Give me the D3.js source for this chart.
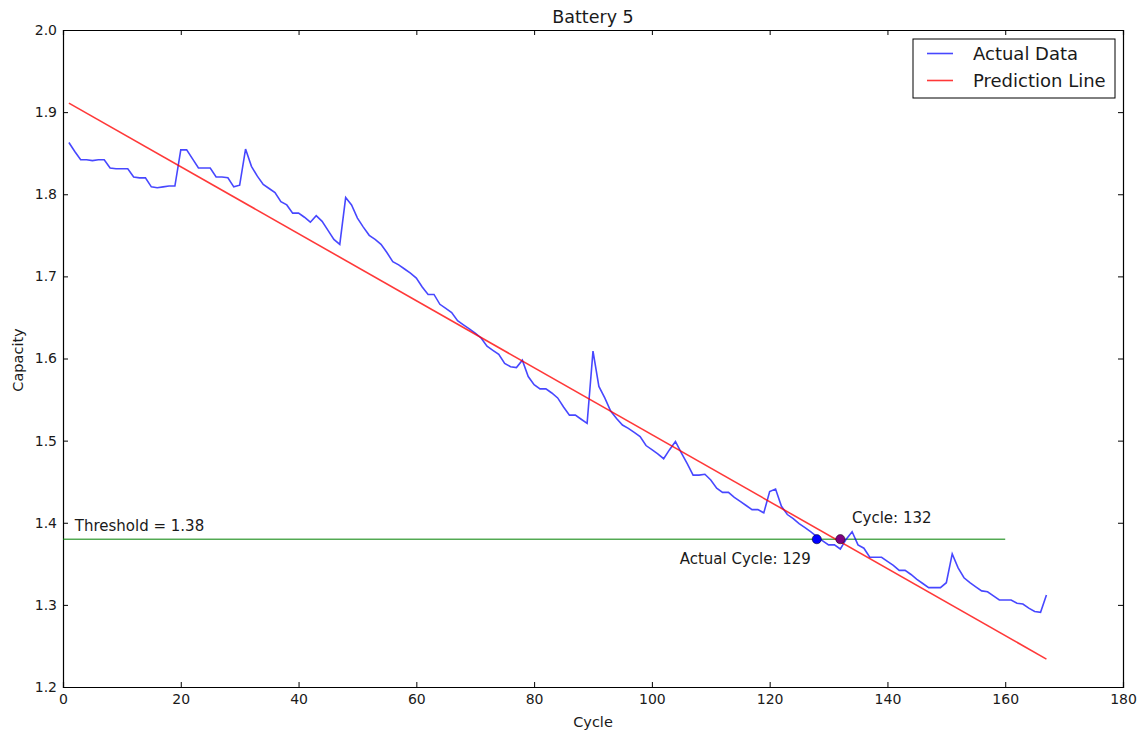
<!DOCTYPE html>
<html>
<head>
<meta charset="utf-8">
<script src="https://cdn.jsdelivr.net/npm/d3@7"></script>
<style>
  body { margin: 0; background: #fff; }
  svg text { font-family: "DejaVu Sans", sans-serif; fill: #1a1a1a; }
</style>
</head>
<body>
<svg id="chart"></svg>
<script>
// capacity per discharge cycle
const cycles = d3.range(1, 168);
const capacity = [
  1.863, 1.852, 1.842, 1.842, 1.841, 1.842, 1.842, 1.832, 1.831, 1.831,
  1.831, 1.821, 1.820, 1.820, 1.809, 1.808, 1.809, 1.810, 1.810, 1.854,
  1.854, 1.843, 1.832, 1.832, 1.832, 1.821, 1.821, 1.820, 1.809, 1.811,
  1.855, 1.834, 1.822, 1.812, 1.807, 1.802, 1.791, 1.787, 1.777, 1.777,
  1.772, 1.766, 1.774, 1.767, 1.756, 1.745, 1.739, 1.796, 1.787, 1.771,
  1.760, 1.750, 1.745, 1.739, 1.729, 1.718, 1.714, 1.709, 1.704, 1.698,
  1.687, 1.678, 1.678, 1.666, 1.661, 1.656, 1.646, 1.641, 1.636, 1.631,
  1.625, 1.615, 1.610, 1.605, 1.594, 1.590, 1.589, 1.598, 1.578, 1.568,
  1.563, 1.563, 1.558, 1.552, 1.541, 1.531, 1.531, 1.526, 1.521, 1.609,
  1.566, 1.552, 1.536, 1.527, 1.519, 1.515, 1.510, 1.505, 1.494, 1.489,
  1.484, 1.478, 1.489, 1.499, 1.485, 1.472, 1.458, 1.458, 1.459, 1.452,
  1.442, 1.437, 1.437, 1.431, 1.426, 1.421, 1.416, 1.416, 1.412, 1.438,
  1.441, 1.420, 1.410, 1.405, 1.399, 1.394, 1.389, 1.383, 1.378, 1.373,
  1.373, 1.368, 1.380, 1.389, 1.373, 1.369, 1.358, 1.358, 1.358, 1.353,
  1.348, 1.342, 1.342, 1.337, 1.331, 1.326, 1.321, 1.321, 1.321, 1.327,
  1.362, 1.345, 1.333, 1.327, 1.322, 1.317, 1.316, 1.311, 1.306, 1.306,
  1.306, 1.302, 1.301, 1.296, 1.292, 1.291, 1.312
];

// fitted prediction line (end points)
const predCycles = [1, 167];
const predCapacity = [1.911, 1.234];

const threshold = 1.38;
const thresholdRange = [0, 160];
const actualCycle = 128, actualLabel = "Actual Cycle: 129";
const predictedCycle = 132, predictedLabel = "Cycle: 132";

const xTicks = d3.range(0, 181, 20);
const yTicks = [1.2, 1.3, 1.4, 1.5, 1.6, 1.7, 1.8, 1.9, 2.0];

const width = 1141, height = 734;
const margin = { top: 30, right: 18, bottom: 47, left: 63 };
const innerW = width - margin.left - margin.right;
const innerH = height - margin.top - margin.bottom;

const svg = d3.select("#chart")
    .attr("width", width)
    .attr("height", height);

const g = svg.append("g")
    .attr("transform", `translate(${margin.left},${margin.top})`);

const x = d3.scaleLinear().domain([0, 180]).range([0, innerW]);
const y = d3.scaleLinear().domain([1.2, 2.0]).range([innerH, 0]);

// axes, ticks pointing inward like matplotlib classic
g.append("g")
    .attr("transform", `translate(0,${innerH})`)
    .call(d3.axisBottom(x).tickValues(xTicks).tickSize(-5).tickPadding(7).tickFormat(d3.format("d")));
g.append("g")
    .call(d3.axisTop(x).tickValues(xTicks).tickSize(-5).tickFormat(""));
g.append("g")
    .call(d3.axisLeft(y).tickValues(yTicks).tickSize(-5).tickPadding(6).tickFormat(d3.format(".1f")));
g.append("g")
    .attr("transform", `translate(${innerW},0)`)
    .call(d3.axisRight(y).tickValues(yTicks).tickSize(-5).tickFormat(""));

g.selectAll(".domain").attr("stroke", "#000").attr("stroke-width", 1.2);
g.selectAll(".tick line").attr("stroke", "#000");
g.selectAll(".tick text").attr("font-size", 14).attr("fill", "#1a1a1a");

// threshold
g.append("line")
    .attr("x1", x(thresholdRange[0])).attr("x2", x(thresholdRange[1]))
    .attr("y1", y(threshold)).attr("y2", y(threshold))
    .attr("stroke", "#008000").attr("stroke-width", 1);

const line = d3.line()
    .x(d => x(d[0]))
    .y(d => y(d[1]));

g.append("path")
    .datum(cycles.map((c, i) => [c, capacity[i]]))
    .attr("d", line)
    .attr("fill", "none")
    .attr("stroke", "rgba(0,0,255,0.72)")
    .attr("stroke-width", 1.6);

g.append("path")
    .datum(predCycles.map((c, i) => [c, predCapacity[i]]))
    .attr("d", line)
    .attr("fill", "none")
    .attr("stroke", "rgba(255,0,0,0.78)")
    .attr("stroke-width", 1.6);

// crossing markers
g.append("circle")
    .attr("cx", x(actualCycle)).attr("cy", y(threshold)).attr("r", 4.6)
    .attr("fill", "#0000ff").attr("stroke", "#000").attr("stroke-width", 0.5);
g.append("circle")
    .attr("cx", x(predictedCycle)).attr("cy", y(threshold)).attr("r", 4.6)
    .attr("fill", "#800080").attr("stroke", "#000").attr("stroke-width", 0.5);

g.append("text")
    .attr("x", x(predictedCycle + 2)).attr("y", y(1.40))
    .attr("font-size", 15)
    .text(predictedLabel);
g.append("text")
    .attr("x", x(actualCycle - 1)).attr("y", y(1.35))
    .attr("text-anchor", "end")
    .attr("font-size", 15)
    .text(actualLabel);
g.append("text")
    .attr("x", x(2)).attr("y", y(1.39))
    .attr("font-size", 15)
    .text("Threshold = 1.38");

// title and labels
svg.append("text")
    .attr("x", margin.left + innerW / 2).attr("y", 23)
    .attr("text-anchor", "middle").attr("font-size", 17.5)
    .text("Battery 5");
svg.append("text")
    .attr("x", margin.left + innerW / 2).attr("y", 727)
    .attr("text-anchor", "middle").attr("font-size", 14.5)
    .text("Cycle");
svg.append("text")
    .attr("transform", "translate(22.5,360) rotate(-90)")
    .attr("text-anchor", "middle").attr("font-size", 14.5)
    .text("Capacity");

// legend
const legend = svg.append("g").attr("transform", "translate(913,39)");
legend.append("rect")
    .attr("width", 202).attr("height", 59)
    .attr("fill", "#fff").attr("stroke", "#000").attr("stroke-width", 1);
const legendItems = [
    { label: "Actual Data", color: "rgba(0,0,255,0.72)" },
    { label: "Prediction Line", color: "rgba(255,0,0,0.78)" }
];
legendItems.forEach((d, i) => {
    const yy = 14.5 + i * 27;
    legend.append("line")
        .attr("x1", 14).attr("x2", 40).attr("y1", yy).attr("y2", yy)
        .attr("stroke", d.color).attr("stroke-width", 1.6);
    legend.append("text")
        .attr("x", 60).attr("y", yy + 6.5)
        .attr("font-size", 18)
        .text(d.label);
});
</script>
</body>
</html>
